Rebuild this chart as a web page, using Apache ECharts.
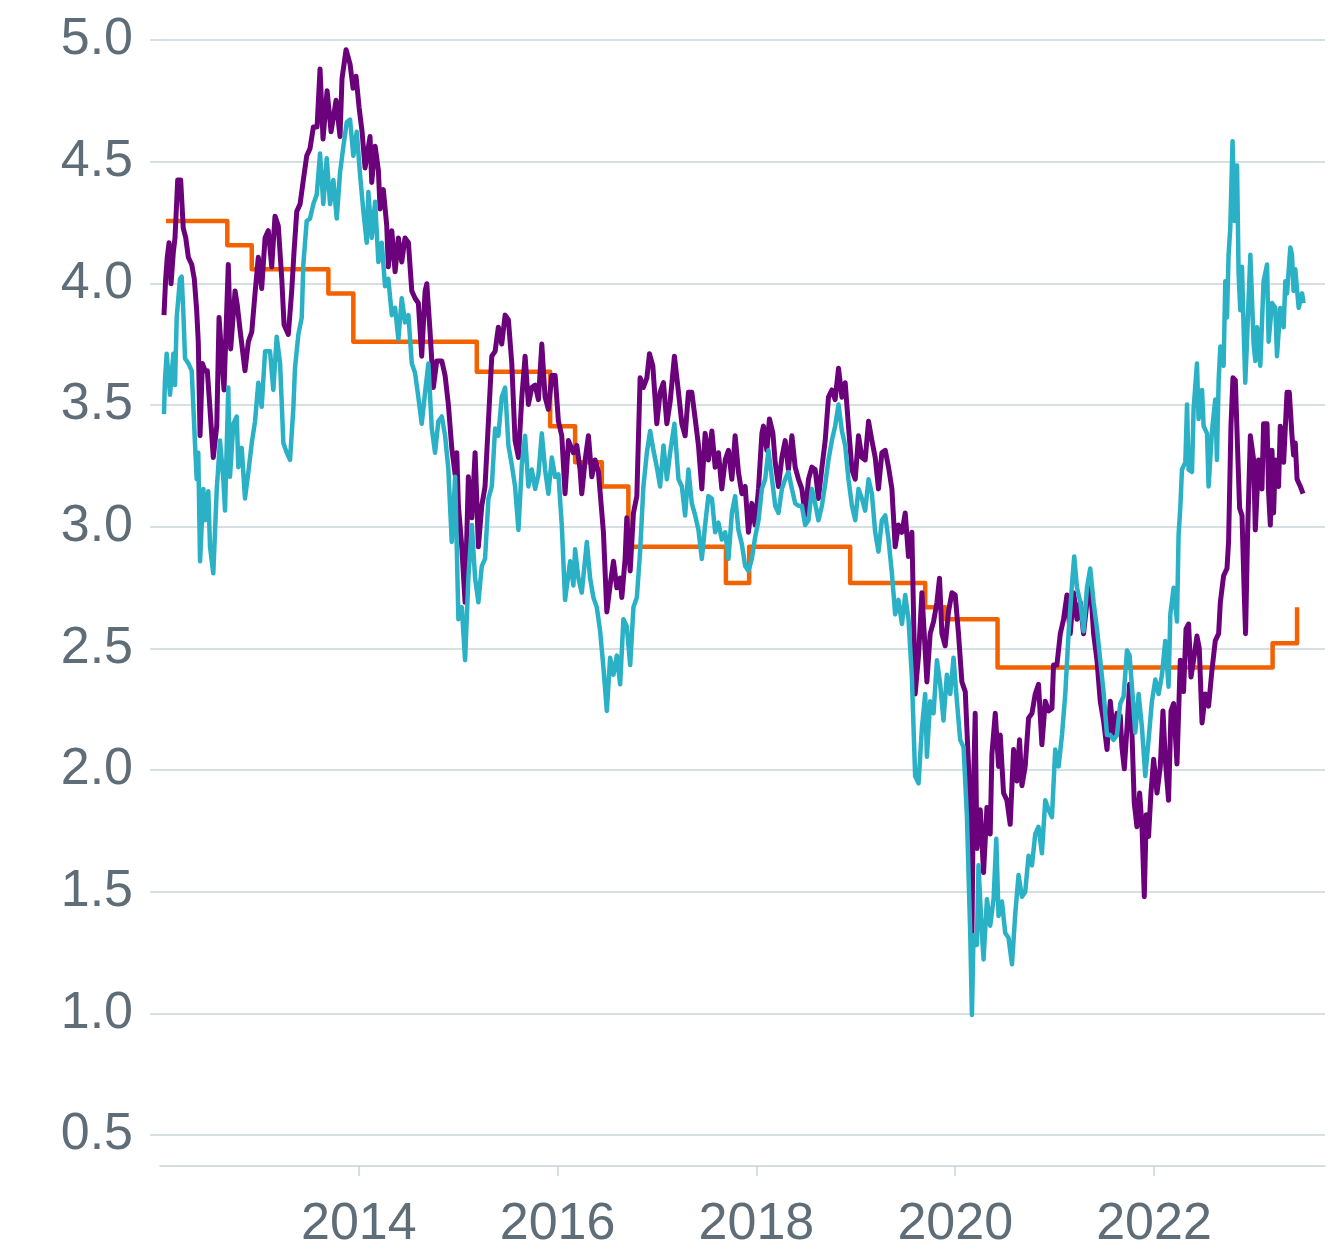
<!DOCTYPE html>
<html>
<head>
<meta charset="utf-8">
<title>Rates chart</title>
<script src="https://cdn.jsdelivr.net/npm/echarts@6/dist/echarts.min.js"></script>
<style>
  html, body { margin: 0; padding: 0; background: #ffffff; }
  #chart { width: 1342px; height: 1251px; }
</style>
</head>
<body>
<div id="chart"></div>
<script>
// x values are decimal years, y values are percent
const policyRate = [
  [2012.060, 4.25], [2012.677, 4.15], [2012.923, 4.05], [2013.694, 3.95], [2013.945, 3.75],
  [2015.187, 3.625], [2015.925, 3.40], [2016.176, 3.25], [2016.445, 3.15], [2016.712, 2.90],
  [2017.693, 2.75], [2017.927, 2.90], [2018.943, 2.75], [2019.698, 2.65], [2019.899, 2.60],
  [2020.426, 2.40], [2023.193, 2.50], [2023.439, 2.65]
];

const purpleYield = [
  [2012.040, 3.86], [2012.057, 4.01], [2012.073, 4.10], [2012.091, 4.16], [2012.111, 3.99],
  [2012.134, 4.12], [2012.151, 4.18], [2012.178, 4.42], [2012.208, 4.42], [2012.234, 4.22],
  [2012.259, 4.18], [2012.285, 4.10], [2012.319, 4.07], [2012.345, 4.01], [2012.369, 3.88],
  [2012.385, 3.75], [2012.403, 3.36], [2012.426, 3.66], [2012.453, 3.63], [2012.476, 3.63],
  [2012.503, 3.47], [2012.536, 3.27], [2012.571, 3.40], [2012.594, 3.85], [2012.644, 3.55],
  [2012.687, 4.07], [2012.711, 3.72], [2012.755, 3.96], [2012.778, 3.90], [2012.805, 3.80],
  [2012.855, 3.63], [2012.889, 3.75], [2012.923, 3.79], [2012.956, 3.95], [2012.989, 4.10],
  [2013.023, 3.97], [2013.057, 4.18], [2013.090, 4.21], [2013.124, 4.06], [2013.157, 4.27],
  [2013.190, 4.23], [2013.225, 4.01], [2013.248, 3.82], [2013.291, 3.78], [2013.325, 3.96],
  [2013.348, 4.12], [2013.376, 4.29], [2013.409, 4.32], [2013.442, 4.42], [2013.476, 4.52],
  [2013.509, 4.55], [2013.543, 4.64], [2013.580, 4.64], [2013.610, 4.88], [2013.640, 4.59],
  [2013.681, 4.79], [2013.721, 4.62], [2013.771, 4.75], [2013.811, 4.60], [2013.831, 4.84],
  [2013.872, 4.96], [2013.912, 4.90], [2013.942, 4.80], [2013.972, 4.85], [2014.003, 4.72],
  [2014.033, 4.62], [2014.063, 4.47], [2014.113, 4.60], [2014.130, 4.41], [2014.164, 4.56],
  [2014.197, 4.46], [2014.214, 4.30], [2014.247, 4.38], [2014.281, 4.23], [2014.297, 4.06],
  [2014.332, 4.21], [2014.365, 4.04], [2014.398, 4.18], [2014.432, 4.08], [2014.465, 4.18],
  [2014.499, 4.16], [2014.533, 3.96], [2014.566, 3.93], [2014.599, 3.91], [2014.633, 3.69],
  [2014.667, 3.96], [2014.684, 3.99], [2014.717, 3.79], [2014.750, 3.56], [2014.784, 3.67],
  [2014.835, 3.67], [2014.868, 3.61], [2014.901, 3.49], [2014.935, 3.31], [2014.969, 3.20],
  [2014.986, 3.29], [2015.002, 3.07], [2015.036, 2.90], [2015.069, 2.67], [2015.102, 3.19],
  [2015.137, 3.02], [2015.170, 3.29], [2015.203, 2.90], [2015.237, 3.07], [2015.270, 3.15],
  [2015.304, 3.42], [2015.338, 3.69], [2015.371, 3.71], [2015.404, 3.81], [2015.438, 3.74],
  [2015.472, 3.86], [2015.505, 3.84], [2015.539, 3.66], [2015.572, 3.34], [2015.606, 3.27],
  [2015.640, 3.52], [2015.673, 3.69], [2015.706, 3.49], [2015.740, 3.56], [2015.774, 3.57],
  [2015.807, 3.51], [2015.841, 3.74], [2015.874, 3.52], [2015.907, 3.47], [2015.942, 3.61],
  [2015.975, 3.61], [2016.008, 3.42], [2016.042, 3.36], [2016.075, 3.12], [2016.109, 3.34],
  [2016.159, 3.29], [2016.193, 3.32], [2016.226, 3.22], [2016.243, 3.12], [2016.277, 3.26],
  [2016.310, 3.36], [2016.344, 3.19], [2016.377, 3.26], [2016.411, 3.21], [2016.445, 3.04],
  [2016.461, 2.96], [2016.495, 2.63], [2016.528, 2.74], [2016.562, 2.84], [2016.596, 2.73],
  [2016.629, 2.77], [2016.646, 2.69], [2016.679, 2.85], [2016.696, 3.02], [2016.730, 2.80],
  [2016.763, 3.04], [2016.797, 3.11], [2016.830, 3.60], [2016.863, 3.56], [2016.898, 3.60],
  [2016.924, 3.70], [2016.958, 3.65], [2016.998, 3.41], [2017.031, 3.54], [2017.065, 3.58],
  [2017.099, 3.41], [2017.132, 3.50], [2017.175, 3.69], [2017.216, 3.54], [2017.250, 3.41],
  [2017.283, 3.36], [2017.316, 3.54], [2017.350, 3.54], [2017.384, 3.43], [2017.417, 3.32],
  [2017.451, 3.14], [2017.484, 3.37], [2017.517, 3.26], [2017.552, 3.38], [2017.585, 3.23],
  [2017.618, 3.29], [2017.652, 3.14], [2017.686, 3.26], [2017.719, 3.30], [2017.753, 3.18],
  [2017.786, 3.36], [2017.819, 3.21], [2017.854, 3.12], [2017.887, 3.15], [2017.920, 2.96],
  [2017.954, 3.08], [2017.987, 2.99], [2018.021, 3.14], [2018.055, 3.37], [2018.071, 3.40],
  [2018.105, 3.30], [2018.131, 3.43], [2018.166, 3.37], [2018.189, 3.25], [2018.222, 3.15],
  [2018.256, 3.27], [2018.289, 3.34], [2018.322, 3.22], [2018.357, 3.36], [2018.390, 3.23],
  [2018.423, 3.18], [2018.457, 3.14], [2018.491, 3.03], [2018.524, 3.18], [2018.558, 3.23],
  [2018.591, 3.22], [2018.624, 3.10], [2018.659, 3.23], [2018.692, 3.34], [2018.725, 3.52],
  [2018.759, 3.55], [2018.792, 3.51], [2018.826, 3.64], [2018.860, 3.52], [2018.893, 3.58],
  [2018.926, 3.40], [2018.961, 3.22], [2018.994, 3.18], [2019.027, 3.36], [2019.061, 3.27],
  [2019.094, 3.26], [2019.128, 3.42], [2019.162, 3.34], [2019.195, 3.27], [2019.228, 3.14],
  [2019.262, 3.29], [2019.296, 3.30], [2019.329, 3.23], [2019.363, 3.14], [2019.396, 2.90],
  [2019.429, 2.99], [2019.464, 2.96], [2019.497, 3.04], [2019.530, 2.86], [2019.564, 2.96],
  [2019.597, 2.29], [2019.631, 2.45], [2019.665, 2.71], [2019.715, 2.34], [2019.748, 2.54],
  [2019.782, 2.59], [2019.816, 2.67], [2019.842, 2.77], [2019.866, 2.54], [2019.899, 2.49],
  [2019.932, 2.63], [2019.967, 2.71], [2020.000, 2.70], [2020.033, 2.54], [2020.067, 2.34],
  [2020.101, 2.30], [2020.134, 1.99], [2020.151, 1.65], [2020.168, 1.29], [2020.184, 1.91],
  [2020.201, 2.21], [2020.218, 1.65], [2020.252, 1.81], [2020.285, 1.55], [2020.319, 1.82],
  [2020.352, 1.71], [2020.369, 2.04], [2020.403, 2.21], [2020.436, 1.99], [2020.453, 2.12],
  [2020.486, 1.88], [2020.520, 1.85], [2020.553, 1.75], [2020.587, 2.06], [2020.621, 1.93],
  [2020.647, 2.10], [2020.671, 1.91], [2020.704, 1.99], [2020.738, 2.19], [2020.772, 2.21],
  [2020.805, 2.29], [2020.838, 2.33], [2020.872, 2.08], [2020.906, 2.26], [2020.939, 2.22],
  [2020.973, 2.23], [2020.989, 2.41], [2021.023, 2.41], [2021.057, 2.54], [2021.090, 2.60],
  [2021.124, 2.70], [2021.157, 2.54], [2021.191, 2.71], [2021.225, 2.60], [2021.258, 2.67],
  [2021.291, 2.54], [2021.325, 2.67], [2021.358, 2.75], [2021.392, 2.54], [2021.426, 2.43],
  [2021.459, 2.26], [2021.492, 2.18], [2021.527, 2.06], [2021.560, 2.26], [2021.593, 2.12],
  [2021.627, 2.21], [2021.660, 2.20], [2021.677, 2.07], [2021.701, 1.98], [2021.728, 2.15],
  [2021.754, 2.33], [2021.778, 2.13], [2021.801, 1.84], [2021.828, 1.74], [2021.855, 1.88],
  [2021.879, 1.74], [2021.902, 1.45], [2021.922, 1.79], [2021.945, 1.70], [2021.969, 1.88],
  [2021.996, 2.02], [2022.030, 1.88], [2022.063, 1.99], [2022.090, 2.22], [2022.113, 2.02],
  [2022.146, 1.85], [2022.171, 2.22], [2022.197, 2.25], [2022.231, 2.00], [2022.264, 2.43],
  [2022.297, 2.30], [2022.322, 2.56], [2022.348, 2.58], [2022.372, 2.36], [2022.398, 2.43],
  [2022.432, 2.53], [2022.455, 2.48], [2022.483, 2.17], [2022.516, 2.29], [2022.549, 2.24],
  [2022.583, 2.39], [2022.616, 2.51], [2022.650, 2.54], [2022.667, 2.67], [2022.700, 2.78],
  [2022.734, 2.81], [2022.750, 2.92], [2022.774, 3.40], [2022.794, 3.60], [2022.818, 3.59],
  [2022.841, 3.30], [2022.861, 3.06], [2022.885, 3.03], [2022.908, 2.70], [2022.921, 2.54],
  [2022.941, 2.95], [2022.969, 3.36], [2023.002, 3.26], [2023.019, 2.97], [2023.052, 3.26],
  [2023.086, 3.14], [2023.102, 3.41], [2023.137, 3.41], [2023.153, 3.12], [2023.170, 2.99],
  [2023.187, 3.30], [2023.203, 3.04], [2023.220, 3.26], [2023.253, 3.15], [2023.270, 3.40],
  [2023.304, 3.25], [2023.338, 3.54], [2023.361, 3.54], [2023.388, 3.36], [2023.404, 3.28],
  [2023.421, 3.33], [2023.439, 3.18], [2023.472, 3.15], [2023.499, 3.12]
];

const tealYield = [
  [2012.040, 3.45], [2012.050, 3.59], [2012.067, 3.70], [2012.101, 3.53], [2012.134, 3.70],
  [2012.151, 3.57], [2012.168, 3.85], [2012.201, 4.01], [2012.218, 4.02], [2012.234, 3.88],
  [2012.252, 3.68], [2012.285, 3.66], [2012.319, 3.63], [2012.352, 3.33], [2012.369, 3.18],
  [2012.385, 3.29], [2012.403, 2.84], [2012.436, 3.14], [2012.453, 3.01], [2012.486, 3.13],
  [2012.503, 2.90], [2012.536, 2.79], [2012.571, 3.14], [2012.604, 3.34], [2012.637, 3.18],
  [2012.654, 3.05], [2012.687, 3.56], [2012.704, 3.19], [2012.738, 3.41], [2012.772, 3.44],
  [2012.788, 3.23], [2012.822, 3.31], [2012.855, 3.10], [2012.889, 3.21], [2012.923, 3.33],
  [2012.956, 3.42], [2012.989, 3.58], [2013.023, 3.48], [2013.057, 3.71], [2013.107, 3.71],
  [2013.140, 3.55], [2013.174, 3.77], [2013.208, 3.66], [2013.241, 3.33], [2013.275, 3.29],
  [2013.308, 3.26], [2013.341, 3.47], [2013.358, 3.64], [2013.392, 3.78], [2013.426, 3.85],
  [2013.442, 4.07], [2013.476, 4.25], [2013.509, 4.26], [2013.543, 4.32], [2013.577, 4.36],
  [2013.610, 4.53], [2013.643, 4.32], [2013.677, 4.51], [2013.711, 4.32], [2013.744, 4.42],
  [2013.778, 4.26], [2013.811, 4.45], [2013.845, 4.56], [2013.879, 4.66], [2013.912, 4.67],
  [2013.945, 4.52], [2013.979, 4.62], [2014.013, 4.44], [2014.046, 4.29], [2014.080, 4.16],
  [2014.096, 4.37], [2014.130, 4.18], [2014.164, 4.33], [2014.197, 4.08], [2014.231, 4.16],
  [2014.264, 3.98], [2014.297, 4.01], [2014.332, 3.86], [2014.365, 3.89], [2014.398, 3.76],
  [2014.432, 3.93], [2014.465, 3.83], [2014.499, 3.86], [2014.533, 3.66], [2014.566, 3.62],
  [2014.599, 3.52], [2014.633, 3.41], [2014.667, 3.54], [2014.700, 3.66], [2014.734, 3.39],
  [2014.767, 3.29], [2014.800, 3.42], [2014.835, 3.44], [2014.868, 3.36], [2014.901, 3.22],
  [2014.935, 2.92], [2014.969, 3.19], [2015.002, 2.60], [2015.036, 2.65], [2015.069, 2.43],
  [2015.102, 2.77], [2015.137, 2.99], [2015.170, 2.77], [2015.203, 2.67], [2015.237, 2.82],
  [2015.270, 2.85], [2015.304, 3.10], [2015.338, 3.15], [2015.371, 3.39], [2015.404, 3.36],
  [2015.438, 3.52], [2015.472, 3.56], [2015.505, 3.32], [2015.539, 3.24], [2015.572, 3.15],
  [2015.606, 2.97], [2015.640, 3.24], [2015.673, 3.36], [2015.706, 3.15], [2015.740, 3.22],
  [2015.774, 3.14], [2015.807, 3.20], [2015.841, 3.37], [2015.874, 3.22], [2015.907, 3.12],
  [2015.942, 3.27], [2015.975, 3.19], [2016.008, 3.20], [2016.042, 2.99], [2016.075, 2.68],
  [2016.126, 2.84], [2016.159, 2.74], [2016.176, 2.89], [2016.209, 2.77], [2016.243, 2.71],
  [2016.277, 2.85], [2016.294, 2.92], [2016.327, 2.77], [2016.360, 2.69], [2016.394, 2.65],
  [2016.428, 2.55], [2016.461, 2.40], [2016.495, 2.22], [2016.528, 2.44], [2016.562, 2.37],
  [2016.596, 2.45], [2016.629, 2.33], [2016.662, 2.60], [2016.696, 2.57], [2016.730, 2.41],
  [2016.763, 2.65], [2016.797, 2.69], [2016.830, 2.88], [2016.863, 3.15], [2016.898, 3.29],
  [2016.931, 3.38], [2016.964, 3.30], [2016.998, 3.23], [2017.031, 3.15], [2017.065, 3.32],
  [2017.099, 3.18], [2017.132, 3.29], [2017.175, 3.41], [2017.216, 3.18], [2017.250, 3.15],
  [2017.283, 3.03], [2017.316, 3.22], [2017.350, 3.08], [2017.384, 3.03], [2017.417, 2.97],
  [2017.451, 2.85], [2017.484, 2.99], [2017.517, 3.11], [2017.552, 3.10], [2017.585, 2.96],
  [2017.618, 3.00], [2017.652, 2.93], [2017.686, 2.96], [2017.719, 2.85], [2017.753, 3.04],
  [2017.786, 3.11], [2017.819, 2.97], [2017.854, 2.91], [2017.887, 2.82], [2017.920, 2.80],
  [2017.954, 2.85], [2017.987, 2.94], [2018.021, 3.01], [2018.055, 3.14], [2018.088, 3.18],
  [2018.121, 3.30], [2018.166, 3.15], [2018.189, 3.07], [2018.222, 3.04], [2018.256, 3.14],
  [2018.289, 3.18], [2018.322, 3.21], [2018.357, 3.14], [2018.390, 3.08], [2018.423, 3.07],
  [2018.457, 3.07], [2018.491, 2.99], [2018.524, 3.01], [2018.558, 3.14], [2018.591, 3.08],
  [2018.624, 3.01], [2018.659, 3.07], [2018.692, 3.16], [2018.725, 3.26], [2018.759, 3.34],
  [2018.792, 3.40], [2018.826, 3.49], [2018.860, 3.38], [2018.893, 3.32], [2018.926, 3.18],
  [2018.961, 3.07], [2018.994, 3.01], [2019.027, 3.14], [2019.061, 3.10], [2019.094, 3.05],
  [2019.128, 3.18], [2019.162, 3.12], [2019.195, 2.96], [2019.228, 2.88], [2019.262, 3.01],
  [2019.296, 3.03], [2019.329, 2.93], [2019.363, 2.79], [2019.396, 2.62], [2019.429, 2.68],
  [2019.464, 2.58], [2019.497, 2.70], [2019.530, 2.60], [2019.564, 2.36], [2019.597, 1.95],
  [2019.631, 1.92], [2019.665, 2.15], [2019.698, 2.29], [2019.715, 2.03], [2019.748, 2.26],
  [2019.782, 2.21], [2019.816, 2.43], [2019.849, 2.33], [2019.882, 2.18], [2019.916, 2.37],
  [2019.950, 2.29], [2019.983, 2.44], [2020.017, 2.26], [2020.050, 2.10], [2020.084, 2.07],
  [2020.118, 1.78], [2020.151, 1.30], [2020.168, 0.96], [2020.184, 1.29], [2020.218, 1.25],
  [2020.234, 1.58], [2020.268, 1.30], [2020.285, 1.19], [2020.319, 1.44], [2020.352, 1.33],
  [2020.386, 1.44], [2020.413, 1.69], [2020.436, 1.37], [2020.470, 1.43], [2020.503, 1.30],
  [2020.536, 1.28], [2020.571, 1.17], [2020.604, 1.38], [2020.637, 1.54], [2020.671, 1.45],
  [2020.704, 1.47], [2020.738, 1.62], [2020.772, 1.58], [2020.805, 1.71], [2020.838, 1.74],
  [2020.872, 1.63], [2020.906, 1.85], [2020.939, 1.81], [2020.973, 1.78], [2021.006, 2.06],
  [2021.040, 1.99], [2021.074, 2.12], [2021.107, 2.29], [2021.140, 2.54], [2021.174, 2.74],
  [2021.197, 2.86], [2021.225, 2.73], [2021.258, 2.67], [2021.291, 2.55], [2021.325, 2.73],
  [2021.358, 2.81], [2021.392, 2.67], [2021.426, 2.56], [2021.459, 2.43], [2021.492, 2.30],
  [2021.527, 2.12], [2021.560, 2.12], [2021.593, 2.10], [2021.627, 2.12], [2021.660, 2.25],
  [2021.694, 2.28], [2021.728, 2.47], [2021.754, 2.45], [2021.778, 2.32], [2021.811, 2.13],
  [2021.845, 2.29], [2021.879, 2.15], [2021.912, 1.95], [2021.945, 2.10], [2021.979, 2.26],
  [2022.013, 2.35], [2022.046, 2.29], [2022.080, 2.37], [2022.113, 2.51], [2022.146, 2.32],
  [2022.164, 2.62], [2022.197, 2.73], [2022.231, 2.59], [2022.247, 2.95], [2022.264, 3.06],
  [2022.281, 3.22], [2022.315, 3.25], [2022.332, 3.49], [2022.348, 3.22], [2022.382, 3.21],
  [2022.398, 3.47], [2022.432, 3.66], [2022.448, 3.43], [2022.483, 3.55], [2022.499, 3.40],
  [2022.533, 3.37], [2022.549, 3.15], [2022.583, 3.38], [2022.616, 3.51], [2022.633, 3.26],
  [2022.650, 3.59], [2022.667, 3.73], [2022.700, 3.65], [2022.717, 4.00], [2022.734, 3.85],
  [2022.750, 4.11], [2022.767, 4.22], [2022.790, 4.58], [2022.811, 4.25], [2022.835, 4.48],
  [2022.851, 4.03], [2022.868, 3.88], [2022.885, 4.06], [2022.901, 3.81], [2022.918, 3.58],
  [2022.935, 3.75], [2022.969, 4.11], [2022.986, 3.92], [2023.002, 3.74], [2023.019, 3.67],
  [2023.036, 3.81], [2023.069, 3.65], [2023.102, 4.00], [2023.137, 4.07], [2023.153, 3.75],
  [2023.187, 3.91], [2023.220, 3.89], [2023.237, 3.69], [2023.270, 3.89], [2023.304, 3.81],
  [2023.321, 4.00], [2023.338, 3.95], [2023.371, 4.14], [2023.388, 4.11], [2023.404, 3.96],
  [2023.421, 4.05], [2023.455, 3.89], [2023.489, 3.95], [2023.505, 3.91]
];

const xRange = [2012, 2023.72];
const yRange = [0.5, 5.0];
const yStep = 0.5;
const xStep = 2;

(function () {
  const el = document.getElementById("chart");
  const chart = echarts.init(el, null, { renderer: "canvas" });

  const labelColor = "#5e6d78";
  const gridColor = "#c9d4d8";
  const font = "'Liberation Sans', Arial, Helvetica, sans-serif";

  function lineSeries(name, data, color, width, extra) {
    return Object.assign({
      name: name,
      type: "line",
      xAxisIndex: 1,
      yAxisIndex: 1,
      data: data,
      showSymbol: false,
      symbol: "none",
      animation: false,
      lineStyle: { color: color, width: width, join: "round", cap: "butt" }
    }, extra || {});
  }

  chart.setOption({
    animation: false,
    backgroundColor: "#ffffff",
    grid: [
      { left: 150, right: 17, top: 40, bottom: 116 },
      { left: 160, right: 17, top: 40, bottom: 116 }
    ],
    xAxis: [
      {
        gridIndex: 0,
        type: "value",
        min: xRange[0] - 10 / 99.375,
        max: xRange[1],
        show: false
      },
      {
        gridIndex: 1,
        type: "value",
        min: xRange[0],
        max: xRange[1],
        interval: xStep,
        offset: 40,
        position: "bottom",
        splitLine: { show: false },
        axisLine: { show: true, lineStyle: { color: gridColor, width: 1.5 } },
        axisTick: { show: true, length: 10, lineStyle: { color: gridColor, width: 1.5 } },
        axisLabel: {
          color: labelColor,
          fontSize: 52,
          fontFamily: font,
          margin: 33,
          showMinLabel: false,
          showMaxLabel: false,
          formatter: (v) => String(Math.round(v))
        }
      }
    ],
    yAxis: [
      {
        gridIndex: 0,
        type: "value",
        min: yRange[0],
        max: yRange[1],
        interval: yStep,
        axisLine: { show: false },
        axisTick: { show: false },
        splitLine: { show: true, lineStyle: { color: gridColor, width: 1.5 } },
        axisLabel: {
          color: labelColor,
          fontSize: 52,
          fontFamily: font,
          margin: 17,
          formatter: (v) => v.toFixed(1)
        }
      },
      {
        gridIndex: 1,
        type: "value",
        min: yRange[0],
        max: yRange[1],
        show: false
      }
    ],
    series: [
      lineSeries("Policy rate", policyRate, "#f26200", 4.5, { step: "end" }),
      lineSeries("Purple yield", purpleYield, "#6b027b", 5),
      lineSeries("Teal yield", tealYield, "#2bb1c5", 4.5)
    ]
  });

  window.addEventListener("resize", () => chart.resize());
})();
</script>
</body>
</html>
